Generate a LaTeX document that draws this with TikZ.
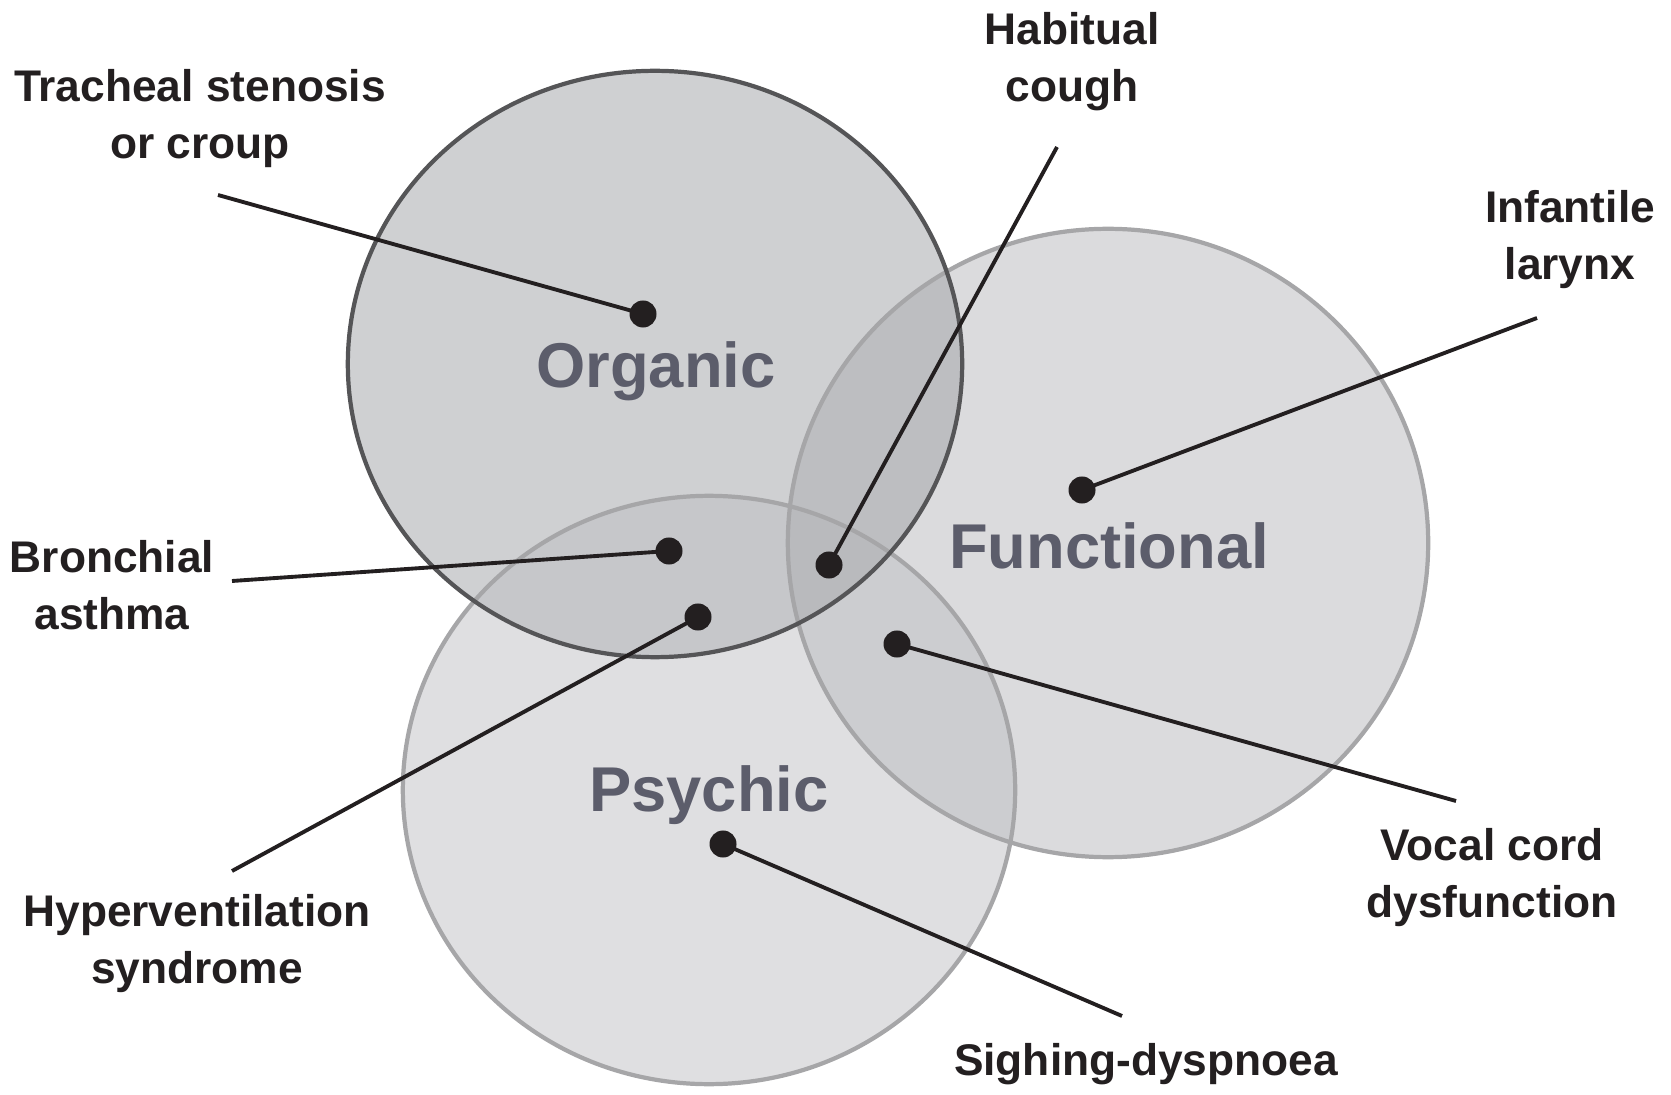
\documentclass[tikz,border=0pt]{standalone}
\usepackage{fontspec}
\setmainfont{Liberation Sans}
\definecolor{organicfill}{HTML}{CFD0D2}
\definecolor{functionfill}{HTML}{DBDBDD}
\definecolor{psychicfill}{HTML}{DFDFE1}
\definecolor{orgfunfill}{HTML}{BDBEC1}
\definecolor{orgpsyfill}{HTML}{C6C7CA}
\definecolor{funpsyfill}{HTML}{CCCDD0}
\definecolor{allfill}{HTML}{B9BABD}
\definecolor{darkrim}{HTML}{555557}
\definecolor{softrim}{HTML}{A6A6A8}
\definecolor{areaink}{HTML}{5C5D6B}
\definecolor{inkblack}{HTML}{231F20}

\begin{document}
\begin{tikzpicture}[x=0.01cm, y=-0.01cm,
    sidetext/.style={font=\bfseries\fontsize{12.6}{16.2}\selectfont, align=center, text=inkblack},
    areatext/.style={font=\bfseries\fontsize{18}{20}\selectfont, text=areaink},
    spot/.style={circle, fill=inkblack, inner sep=0pt, minimum size=0.27cm},
    lead/.style={inkblack, line width=1.1pt}]
    \useasboundingbox (0,0) rectangle (1671,1095);

    % areas
    \fill[psychicfill] (709,790) ellipse [x radius=3.06cm, y radius=2.94cm];
    \fill[functionfill] (1108,543) ellipse [x radius=3.20cm, y radius=3.14cm];
    \fill[organicfill] (655,364) ellipse [x radius=3.07cm, y radius=2.93cm];

    \begin{scope}
        \clip (1108,543) ellipse [x radius=3.20cm, y radius=3.14cm];
        \fill[funpsyfill] (709,790) ellipse [x radius=3.06cm, y radius=2.94cm];
    \end{scope}
    \begin{scope}
        \clip (655,364) ellipse [x radius=3.07cm, y radius=2.93cm];
        \fill[orgfunfill] (1108,543) ellipse [x radius=3.20cm, y radius=3.14cm];
        \fill[orgpsyfill] (709,790) ellipse [x radius=3.06cm, y radius=2.94cm];
        \clip (1108,543) ellipse [x radius=3.20cm, y radius=3.14cm];
        \fill[allfill] (709,790) ellipse [x radius=3.06cm, y radius=2.94cm];
    \end{scope}

    \draw[softrim, line width=1.2pt] (709,790) ellipse [x radius=3.06cm, y radius=2.94cm];
    \draw[softrim, line width=1.2pt] (1108,543) ellipse [x radius=3.20cm, y radius=3.14cm];
    \draw[darkrim, line width=1.2pt] (655,364) ellipse [x radius=3.07cm, y radius=2.93cm];

    \node[areatext] (organic) at (656,371) {Organic};
    \node[areatext] (functional) at (1109,546) {Functional};
    \node[areatext] (psychic) at (709,795) {Psychic};

    % spots and leads
    \node[spot] (trachealspot) at (643,314) {};
    \node[spot] (habitualspot) at (829,565) {};
    \node[spot] (infantilespot) at (1082,490) {};
    \node[spot] (bronchialspot) at (669,551) {};
    \node[spot] (hyperspot) at (698,617) {};
    \node[spot] (vocalspot) at (897,644) {};
    \node[spot] (sighingspot) at (723,844) {};

    \coordinate (trachealend) at (218,195);
    \coordinate (habitualend) at (1057,147);
    \coordinate (infantileend) at (1537,318);
    \coordinate (bronchialend) at (232,581);
    \coordinate (hyperend) at (232,871);
    \coordinate (vocalend) at (1456,801);
    \coordinate (sighingend) at (1122,1016);

    \draw[lead] (trachealspot.center) -- (trachealend);
    \draw[lead] (habitualspot.center) -- (habitualend);
    \draw[lead] (infantilespot.center) -- (infantileend);
    \draw[lead] (bronchialspot.center) -- (bronchialend);
    \draw[lead] (hyperspot.center) -- (hyperend);
    \draw[lead] (vocalspot.center) -- (vocalend);
    \draw[lead] (sighingspot.center) -- (sighingend);

    \node[sidetext] (tracheal) at (200,119) {Tracheal stenosis\\or croup};
    \node[sidetext] (habitual) at (1072,62) {Habitual\\cough};
    \node[sidetext] (infantile) at (1570,240) {Infantile\\larynx};
    \node[sidetext] (bronchial) at (112,585) {Bronchial\\asthma};
    \node[sidetext] (hyper) at (197,944) {Hyperventilation\\syndrome};
    \node[sidetext] (vocal) at (1492,878) {Vocal cord\\dysfunction};
    \node[sidetext] (sighing) at (1146,1064) {Sighing-dyspnoea};
\end{tikzpicture}
\end{document}
